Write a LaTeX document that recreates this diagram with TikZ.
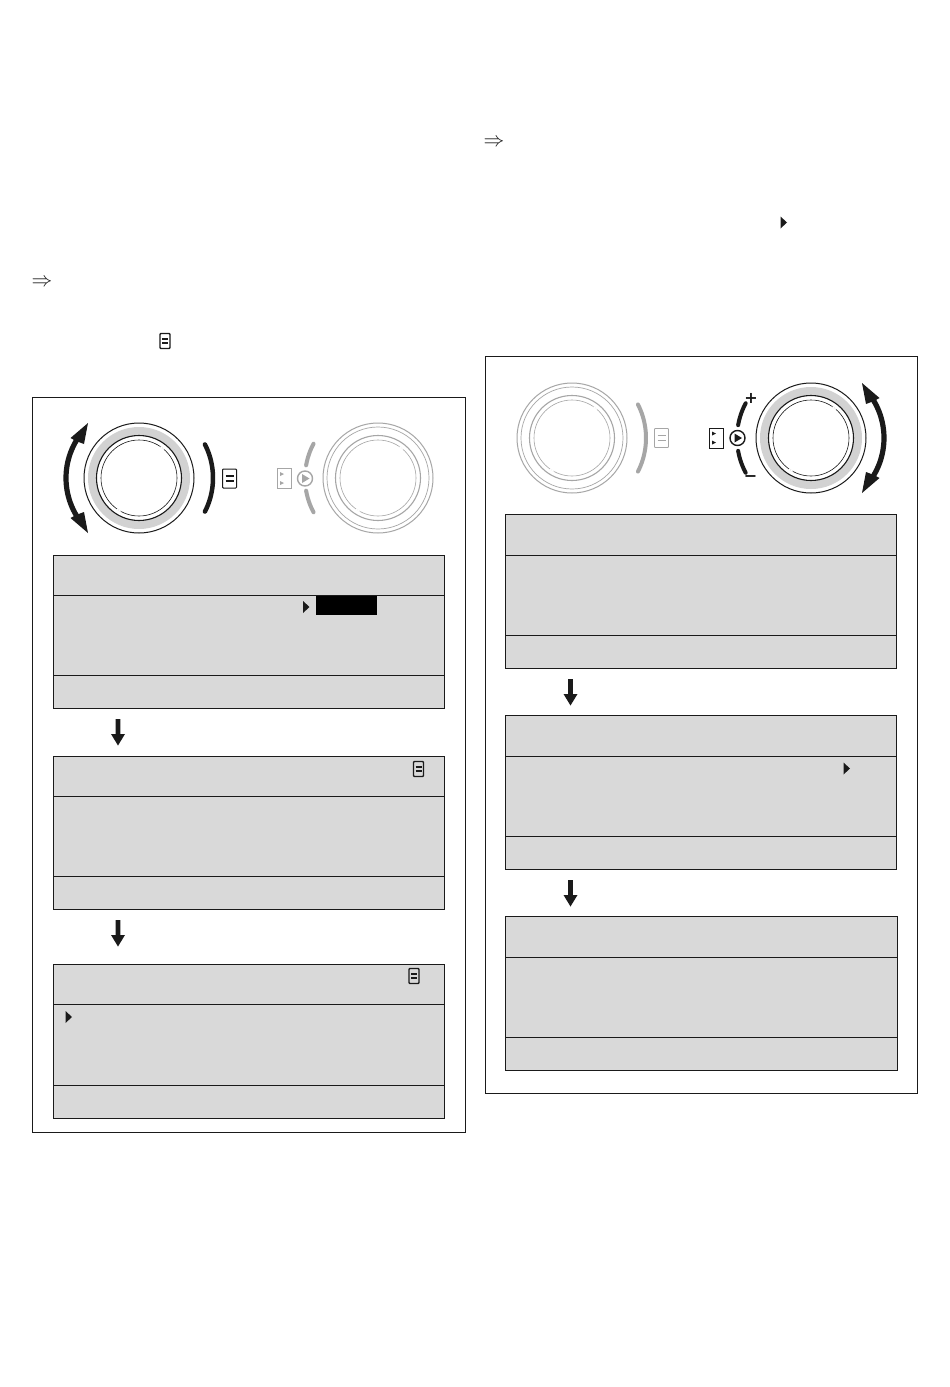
\documentclass[tikz,border=0pt]{standalone}
\usepackage{fontspec}
\setmainfont{DejaVu Sans}
\definecolor{panelgray}{HTML}{D9D9D9}
\definecolor{bandgray}{HTML}{D2D2D2}
\definecolor{fadegray}{HTML}{A6A6A6}
\definecolor{inkblack}{HTML}{1A1A1A}
\tikzset{
  frameline/.style={draw=inkblack,line width=0.8pt},
  panelline/.style={draw=inkblack,line width=1pt},
  symbolnode/.style={inner sep=0pt,outer sep=0pt,text=inkblack},
}
% centre x, y, radius, from, to (angles counted with y upwards)
\newcommand{\rimarc}[6]{\draw[#6,line cap=round,line join=round]
  plot[domain=#4:#5,samples=24] ({#1+#3*cos(\x)},{#2-#3*sin(\x)});}
% knob: cx, cy, line colour, band colour
\newcommand{\knob}[4]{%
  \fill[#4] (#1,#2) circle[radius=51];
  \fill[white] (#1,#2) circle[radius=42];
  \draw[#3,line width=1pt] (#1,#2) circle[radius=55];
  \draw[#3,line width=1.1pt] (#1,#2) circle[radius=42.5];
  \draw[#3,line width=0.6pt] (#1,#2) circle[radius=38];
  \rimarc{#1}{#2}{38}{49}{55}{white,line width=1.2pt}
  \rimarc{#1}{#2}{38}{235}{241}{white,line width=1.2pt}
}
% large menu icon: cx, cy, colour, line width
\newcommand{\menuicon}[4]{%
  \draw[#3,line width=#4,fill=white,rounded corners=0.8pt] (#1-7,#2-9.5) rectangle (#1+7,#2+9.5);
  \draw[#3,line width=1.6pt] (#1-4,#2-2.6) -- (#1+4,#2-2.6) (#1-4,#2+2.6) -- (#1+4,#2+2.6);
}
% small menu icon, unfilled: cx, cy
\newcommand{\smallmenu}[2]{%
  \draw[inkblack,line width=1.4pt,rounded corners=0.8pt] (#1-5,#2-7.5) rectangle (#1+5,#2+7.5);
  \draw[inkblack,line width=1.6pt] (#1-3,#2-2.2) -- (#1+3,#2-2.2) (#1-3,#2+2.2) -- (#1+3,#2+2.2);
}
% mode icon: box centre x, y, circle centre x, colour
\newcommand{\modeicon}[4]{%
  \draw[#4,line width=0.9pt,fill=white] (#1-7,#2-10) rectangle (#1+7,#2+10);
  \fill[#4] (#1-4,#2-6.5) -- (#1,#2-4.5) -- (#1-4,#2-2.5) -- cycle;
  \fill[#4] (#1-4,#2+2.5) -- (#1,#2+4.5) -- (#1-4,#2+6.5) -- cycle;
  \draw[#4,line width=1.4pt] (#3,#2) circle[radius=7.5];
  \fill[#4] (#3-3,#2-4.5) -- (#3+4.5,#2) -- (#3-3,#2+4.5) -- cycle;
}
% double arrow: cx, cy, sx (-1 left of the knob, 1 right)
\newcommand{\turnarrow}[3]{%
  \begin{scope}[shift={(#1,#2)},xscale=#3]
    \draw[inkblack,line width=5.2pt]
      plot[domain=-31:31,samples=24] ({73*cos(\x)},{73*sin(\x)});
    \fill[inkblack] (51,-55) -- (68.5,-40) -- (63,-37) -- (55,-34) -- cycle;
    \fill[inkblack] (51,55) -- (68.5,40) -- (63,37) -- (55,34) -- cycle;
  \end{scope}
}
\newcommand{\panelset}[6]{%
  \fill[panelgray] (#1,#3) rectangle (#2,#6);
  \draw[panelline] (#1,#3) rectangle (#2,#6) (#1,#4) -- (#2,#4) (#1,#5) -- (#2,#5);
}
\newcommand{\stepdown}[2]{%
  \fill[inkblack] (#1-2.3,#2) -- (#1+2.3,#2) -- (#1+2.3,#2+15) -- (#1+7,#2+15)
    -- (#1,#2+26.5) -- (#1-7,#2+15) -- (#1-2.3,#2+15) -- cycle;
}
\newcommand{\pointer}[2]{\fill[inkblack] (#1-3,#2-6) -- (#1+3.5,#2) -- (#1-3,#2+6) -- cycle;}
\begin{document}
\begin{tikzpicture}[x=1pt,y=-1pt]
\useasboundingbox (0,0) rectangle (950,1387);
\fill[white] (0,0) rectangle (950,1387);

% loose symbols above the frames
\node[symbolnode,font=\fontsize{21}{21}\selectfont] (implyL) at (42,283) {$\Rightarrow$};
\node[symbolnode,font=\fontsize{21}{21}\selectfont] (implyR) at (494,142.5) {$\Rightarrow$};
\smallmenu{165}{341}
\pointer{783.5}{222.5}

% left frame
\draw[frameline] (32.5,397.5) rectangle (465.5,1132.5);
\knob{139}{478}{inkblack}{bandgray}
\turnarrow{139}{478}{-1}
\rimarc{139}{478}{74}{-27}{27}{inkblack,line width=4.5pt}
\menuicon{229.5}{478.5}{inkblack}{1pt}
\knob{378}{478}{fadegray}{white}
\draw[fadegray,line width=0.7pt] (378,478) circle[radius=51];
\rimarc{378}{478}{73}{152}{170}{fadegray,line width=4pt}
\rimarc{378}{478}{73}{190}{208}{fadegray,line width=4pt}
\modeicon{284}{478.5}{305}{fadegray}

\panelset{53}{444.5}{555.5}{595.5}{675.5}{708.5}
\fill[black] (316,595.5) rectangle (377,615);
\pointer{306}{607}
\stepdown{118}{719}
\panelset{53}{444.5}{756.5}{796.5}{876.5}{909.5}
\smallmenu{418.5}{769}
\stepdown{118}{920}
\panelset{53}{444.5}{964.5}{1004.5}{1085.5}{1118.5}
\smallmenu{414}{976}
\pointer{68.5}{1017}

% right frame
\draw[frameline] (485.5,356.5) rectangle (917.5,1093.5);
\knob{572}{438}{fadegray}{white}
\draw[fadegray,line width=0.7pt] (572,438) circle[radius=51];
\rimarc{572}{438}{74}{-27}{27}{fadegray,line width=4pt}
\menuicon{661.5}{438}{fadegray}{0.8pt}
\knob{811}{438}{inkblack}{bandgray}
\turnarrow{811}{438}{1}
\rimarc{811}{438}{74}{152}{170}{inkblack,line width=4pt}
\rimarc{811}{438}{74}{190}{208}{inkblack,line width=4pt}
\modeicon{716}{438}{737.5}{inkblack}
\node[symbolnode,font=\fontsize{16}{16}\selectfont\bfseries] (plus) at (751,398) {+};
\node[symbolnode,font=\fontsize{16}{16}\selectfont\bfseries] (minus) at (750.5,479) {−};

\panelset{505.5}{896.5}{514.5}{555}{635.5}{668.5}
\stepdown{570.5}{679}
\panelset{505.5}{896.5}{715.5}{756.5}{836.5}{869.5}
\pointer{846.5}{768.5}
\stepdown{570.5}{880}
\panelset{505.5}{897.5}{916.5}{957.5}{1037.5}{1070.5}
\end{tikzpicture}
\end{document}
